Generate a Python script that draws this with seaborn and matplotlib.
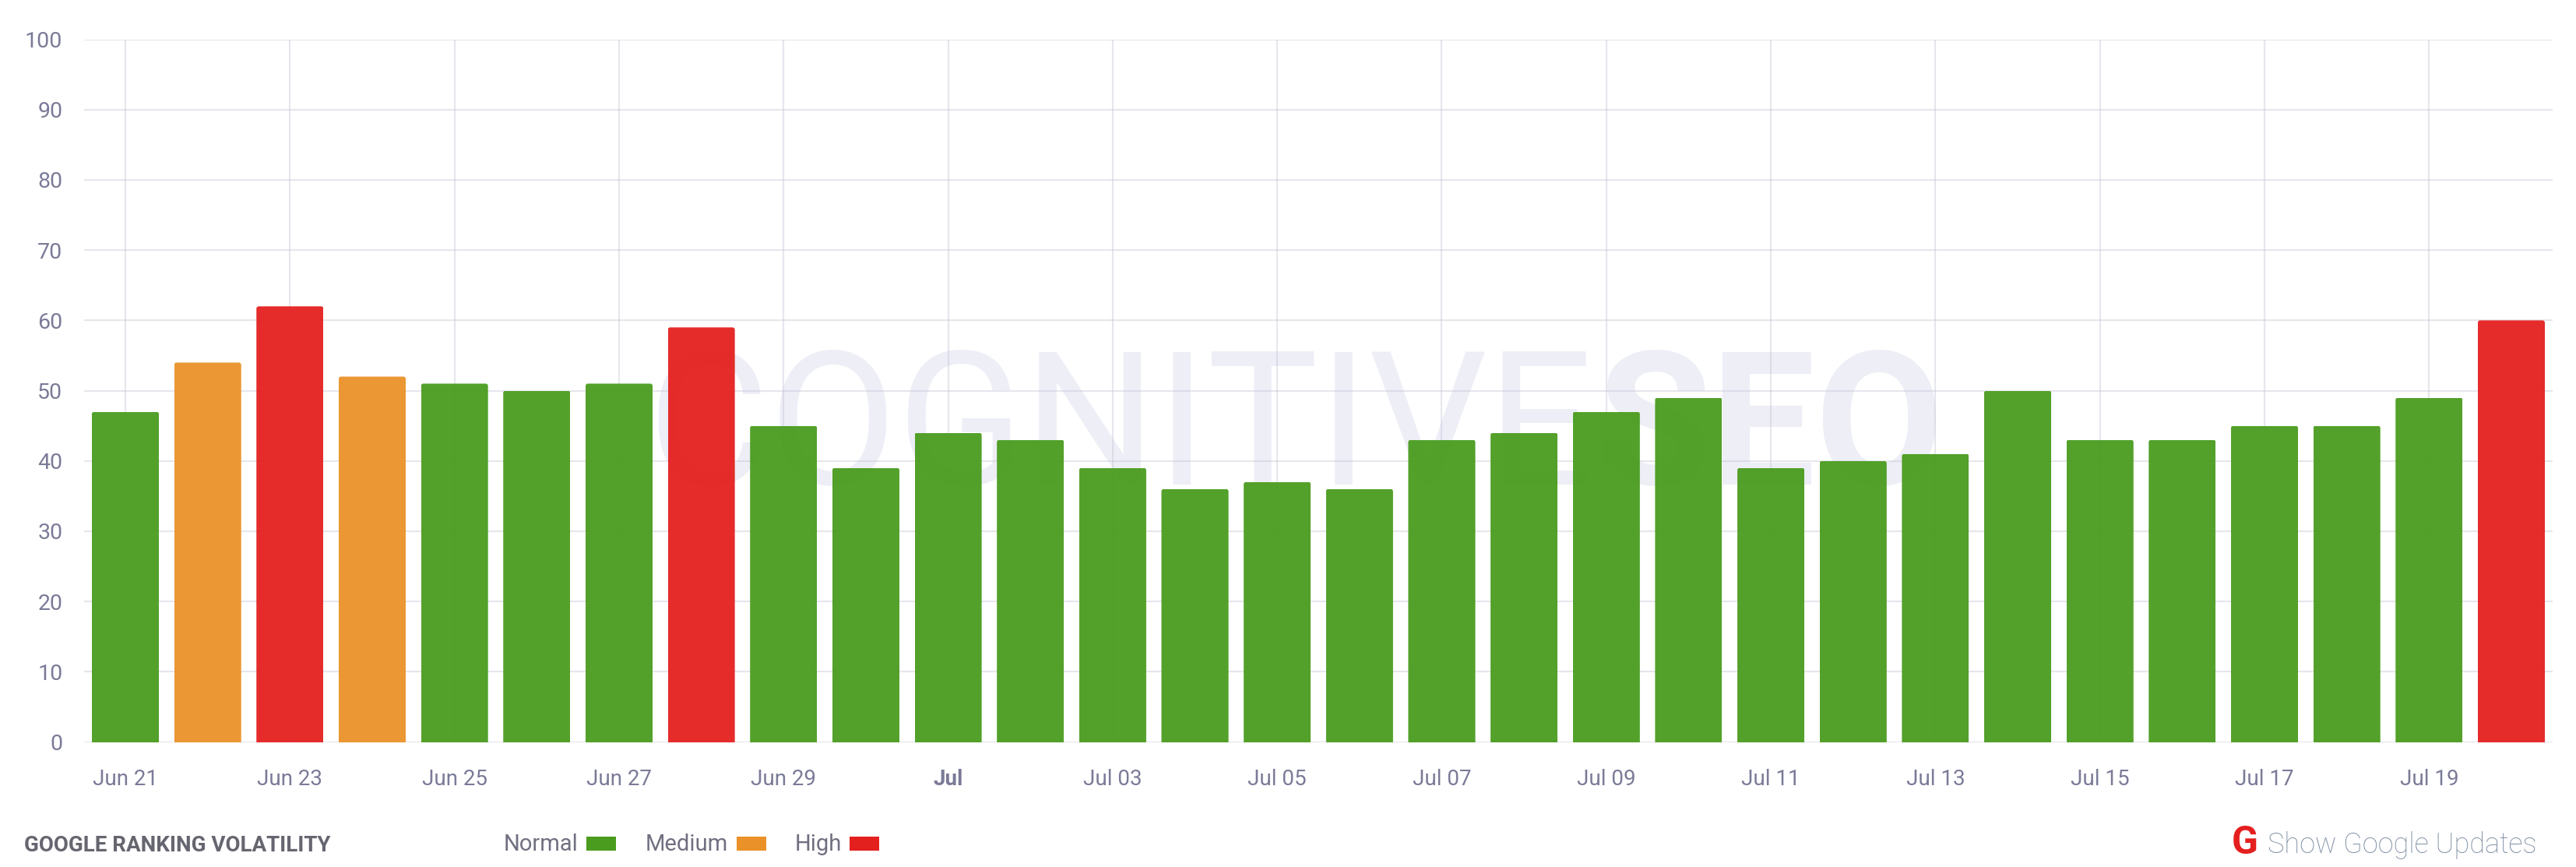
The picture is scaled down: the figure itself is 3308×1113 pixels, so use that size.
import matplotlib
matplotlib.use("Agg")
import matplotlib.pyplot as plt
from matplotlib import font_manager as fm
from matplotlib.patches import FancyBboxPatch, Rectangle
from matplotlib.transforms import IdentityTransform
import pandas as pd
import seaborn as sns

# Daily volatility readings, 21 June to 20 July
days = ["Jun 21", "Jun 22", "Jun 23", "Jun 24", "Jun 25", "Jun 26", "Jun 27", "Jun 28",
        "Jun 29", "Jun 30", "Jul", "Jul 02", "Jul 03", "Jul 04", "Jul 05", "Jul 06",
        "Jul 07", "Jul 08", "Jul 09", "Jul 10", "Jul 11", "Jul 12", "Jul 13", "Jul 14",
        "Jul 15", "Jul 16", "Jul 17", "Jul 18", "Jul 19", "Jul 20"]
values = [47, 54, 62, 52, 51, 50, 51, 59, 45, 39, 44, 43, 39, 36, 37, 36,
          43, 44, 47, 49, 39, 40, 41, 50, 43, 43, 45, 45, 49, 60]
levels = ["Normal", "Medium", "High", "Medium", "Normal", "Normal", "Normal", "High",
          "Normal", "Normal", "Normal", "Normal", "Normal", "Normal", "Normal", "Normal",
          "Normal", "Normal", "Normal", "Normal", "Normal", "Normal", "Normal", "Normal",
          "Normal", "Normal", "Normal", "Normal", "Normal", "High"]
level_names = ["Normal", "Medium", "High"]
level_colors = ["#4a9c1e", "#ea9229", "#e4201f"]
y_ticks = list(range(0, 101, 10))

W, H = 3308, 1113
TICK = "#7a7a98"
GRID = "#e6e6ee"
WATERMARK = "#edeef6"

sns.set_theme(style="white")
installed = {f.name for f in fm.fontManager.ttflist}
wm_family = "Liberation Sans Narrow" if "Liberation Sans Narrow" in installed else "Roboto"
plt.rcParams["font.family"] = ["Roboto", "DejaVu Sans"]

frame = pd.DataFrame({"day": days, "value": values, "level": levels})

fig = plt.figure(figsize=(W / 100, H / 100), dpi=100, facecolor="white")
ax = fig.add_axes([108.2 / W, 1 - 952.5 / H, (3277.8 - 108.2) / W, (952.5 - 50.5) / H])


def fx(px):
    return px / W


def fy(px):
    return 1 - px / H


sns.barplot(data=frame, x="day", y="value", hue="level", hue_order=level_names,
            palette=dict(zip(level_names, level_colors)), dodge=False, width=0.815,
            alpha=0.95, saturation=1, linewidth=0, legend=False, ax=ax, zorder=3)

ax.set_xlim(-0.5, len(days) - 0.5)
ax.set_ylim(0, 100)
ax.set_xlabel("")
ax.set_ylabel("")
ax.set_yticks(y_ticks)
ax.set_xticks(range(0, len(days), 2))
ax.set_xticklabels(days[::2])
ax.tick_params(axis="y", length=0, pad=20, labelsize=20.5, labelcolor=TICK)
ax.tick_params(axis="x", length=0, pad=25, labelsize=20, labelcolor=TICK)
for label in ax.get_xticklabels():
    if label.get_text() == "Jul":
        label.set_fontweight("bold")
for spine in ax.spines.values():
    spine.set_visible(False)
ax.grid(True, color="#c4c4d6", alpha=0.42, linewidth=1.5)
ax.set_axisbelow(True)

# Faint brand mark behind the grid
ax.text(fx(832), fy(622), "COGNITIVE", transform=fig.transFigure, family=wm_family,
        fontsize=172, color=WATERMARK, ha="left", va="baseline", zorder=0.2)
ax.text(fx(2051), fy(622), "SEO", transform=fig.transFigure, family=wm_family,
        fontweight="bold", fontsize=172, color=WATERMARK, ha="left", va="baseline", zorder=0.2)

# Slightly rounded bar tops
fig.canvas.draw()
renderer = fig.canvas.get_renderer()
for bar in ax.patches:
    box = bar.get_window_extent(renderer)
    clip = FancyBboxPatch((box.x0, box.y0 - 10), box.width, box.height + 10,
                          boxstyle="round,pad=0,rounding_size=3",
                          transform=IdentityTransform())
    bar.set_clip_path(clip)

# Footer: title, severity key and updates toggle
fig.text(fx(31), fy(1093), "GOOGLE RANKING VOLATILITY", fontsize=20, fontweight="bold",
         color="#666670", ha="left", va="baseline")
key_text = [647, 829, 1021]
key_box = [753, 946, 1091]
for name, color, tx, bx in zip(level_names, level_colors, key_text, key_box):
    fig.text(fx(tx), fy(1092), name, fontsize=21, color="#6f6f80", ha="left", va="baseline")
    fig.add_artist(Rectangle((fx(bx), fy(1092)), 38 / W, 18 / H, transform=fig.transFigure,
                             facecolor=color, edgecolor="none"))
fig.text(fx(2866), fy(1096), "G", fontsize=36, fontweight="bold", color="#e4201f",
         ha="left", va="baseline")
fig.text(fx(2912), fy(1095), "Show Google Updates", fontsize=26, fontweight="light",
         color="#7f8ea3", ha="left", va="baseline")

fig.savefig("out.png", dpi=100, facecolor="white")
